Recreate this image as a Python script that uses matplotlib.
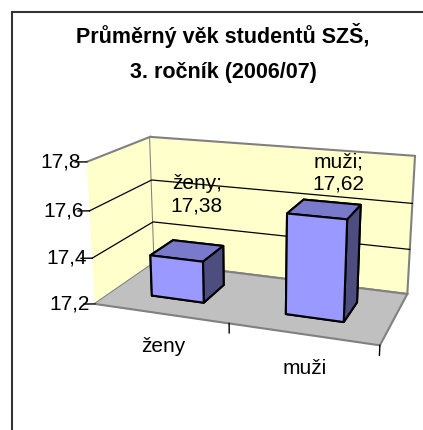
import numpy as np
import matplotlib
matplotlib.use("Agg")
import matplotlib.pyplot as plt
from matplotlib.patches import Rectangle

# -----------------------------------------------------------------------
# Data
# -----------------------------------------------------------------------
categories = ["ženy", "muži"]
values = [17.38, 17.62]
z_ticks = [17.2, 17.4, 17.6, 17.8]
z_tick_labels = ["17,2", "17,4", "17,6", "17,8"]
data_labels = ["ženy;\n17,38", "muži;\n17,62"]
title_lines = ["Průměrný věk studentů SZŠ,", "3. ročník (2006/07)"]

z_min, z_max = 17.2, 17.8

plt.rcParams["font.family"] = ["Liberation Sans", "DejaVu Sans"]

W, H = 423, 430
fig = plt.figure(figsize=(W / 100, H / 100), dpi=100)
fig.patch.set_facecolor("white")

# chart area frame (right / bottom edges fall outside the picture)
fig.patches.append(Rectangle((11.5 / W, -0.2), 1.2, 1.2 - 11.5 / H,
                             transform=fig.transFigure, fill=False,
                             edgecolor="#333333", linewidth=1.5))

# title
fig.text(223 / W, 1 - 43 / H, title_lines[0], ha="center", va="baseline",
         fontsize=15.5, fontweight="bold")
fig.text(223 / W, 1 - 78 / H, title_lines[1], ha="center", va="baseline",
         fontsize=15.5, fontweight="bold")

# -----------------------------------------------------------------------
# 3D column chart
# -----------------------------------------------------------------------
S = 400
cx, cy = 248, 236
ax = fig.add_axes([(cx - S / 2) / W, (H - cy - S / 2) / H, S / W, S / H],
                  projection="3d", computed_zorder=True)
ax.set_proj_type("persp", focal_length=0.4)
ax.view_init(elev=17, azim=-70)
ax.set_box_aspect((2.15, 1.0, 1.08), zoom=0.857)

x_lo, x_hi = 0.5, 0.5 + len(categories)
ax.set_xlim(x_lo, x_hi)
ax.set_ylim(0, 1)
ax.set_zlim(z_min, z_max)

# walls and floor
ax.xaxis.set_pane_color("#FFFFCC")
ax.yaxis.set_pane_color("#FFFFCC")
ax.zaxis.set_pane_color("#C0C0C0")
for axis in (ax.xaxis, ax.yaxis, ax.zaxis):
    axis.pane.set_edgecolor("#808080")
    axis.pane.set_linewidth(1.5)
    axis.line.set_color((0, 0, 0, 0))
ax.set_xticks([])
ax.set_yticks([])
ax.set_zticks([])

# gridlines on the side and back walls
for z in z_ticks[1:-1]:
    ax.plot([x_lo, x_lo, x_hi], [0, 1, 1], [z, z, z], color="black", linewidth=0.9)

# bars
bar_w, bar_d = 0.4, 0.4
xs = np.arange(len(values)) + 1 - bar_w / 2
ys = np.full(len(values), 0.5 - bar_d / 2)
zs = np.full(len(values), z_min)
dz = np.array(values) - z_min
# face order: bottom, top, front, back, left, right
face_cols = ["#9999FF", "#7A7ACC", "#9999FF", "#9999FF", "#9999FF", "#4D4D80"]
ax.bar3d(xs, ys, zs, bar_w, bar_d, dz, color=face_cols * len(values),
         shade=False, edgecolor="black", linewidth=1.5)

# value axis ticks and labels on the front-left edge
tx, ty = -0.07, -0.03
for z, lab in zip(z_ticks, z_tick_labels):
    ax.plot([x_lo, x_lo + tx], [0, ty], [z, z], color="black", linewidth=1)
    ax.text(x_lo - 0.035, ty / 2, z, lab, ha="right", va="center", fontsize=15)

# category ticks and labels along the front edge
for xb in np.arange(1, len(categories) + 1) + 0.5:
    ax.plot([xb, xb], [0, 0], [z_min, z_min - 0.04], color="black", linewidth=1)
for i, cat in enumerate(categories):
    ax.text(i + 1 + 0.02, 0, z_min - 0.10, cat, ha="center", va="top", fontsize=15)

# data labels above the bars
label_dx = [0.08, 0.09]
label_dz = [0.25, 0.15]
for i, (v, lab) in enumerate(zip(values, data_labels)):
    ax.text(i + 1 + label_dx[i], 0.5, v + label_dz[i], lab, ha="center",
            va="center", fontsize=15, linespacing=1.25)

fig.savefig("out.png", dpi=100, facecolor="white")
